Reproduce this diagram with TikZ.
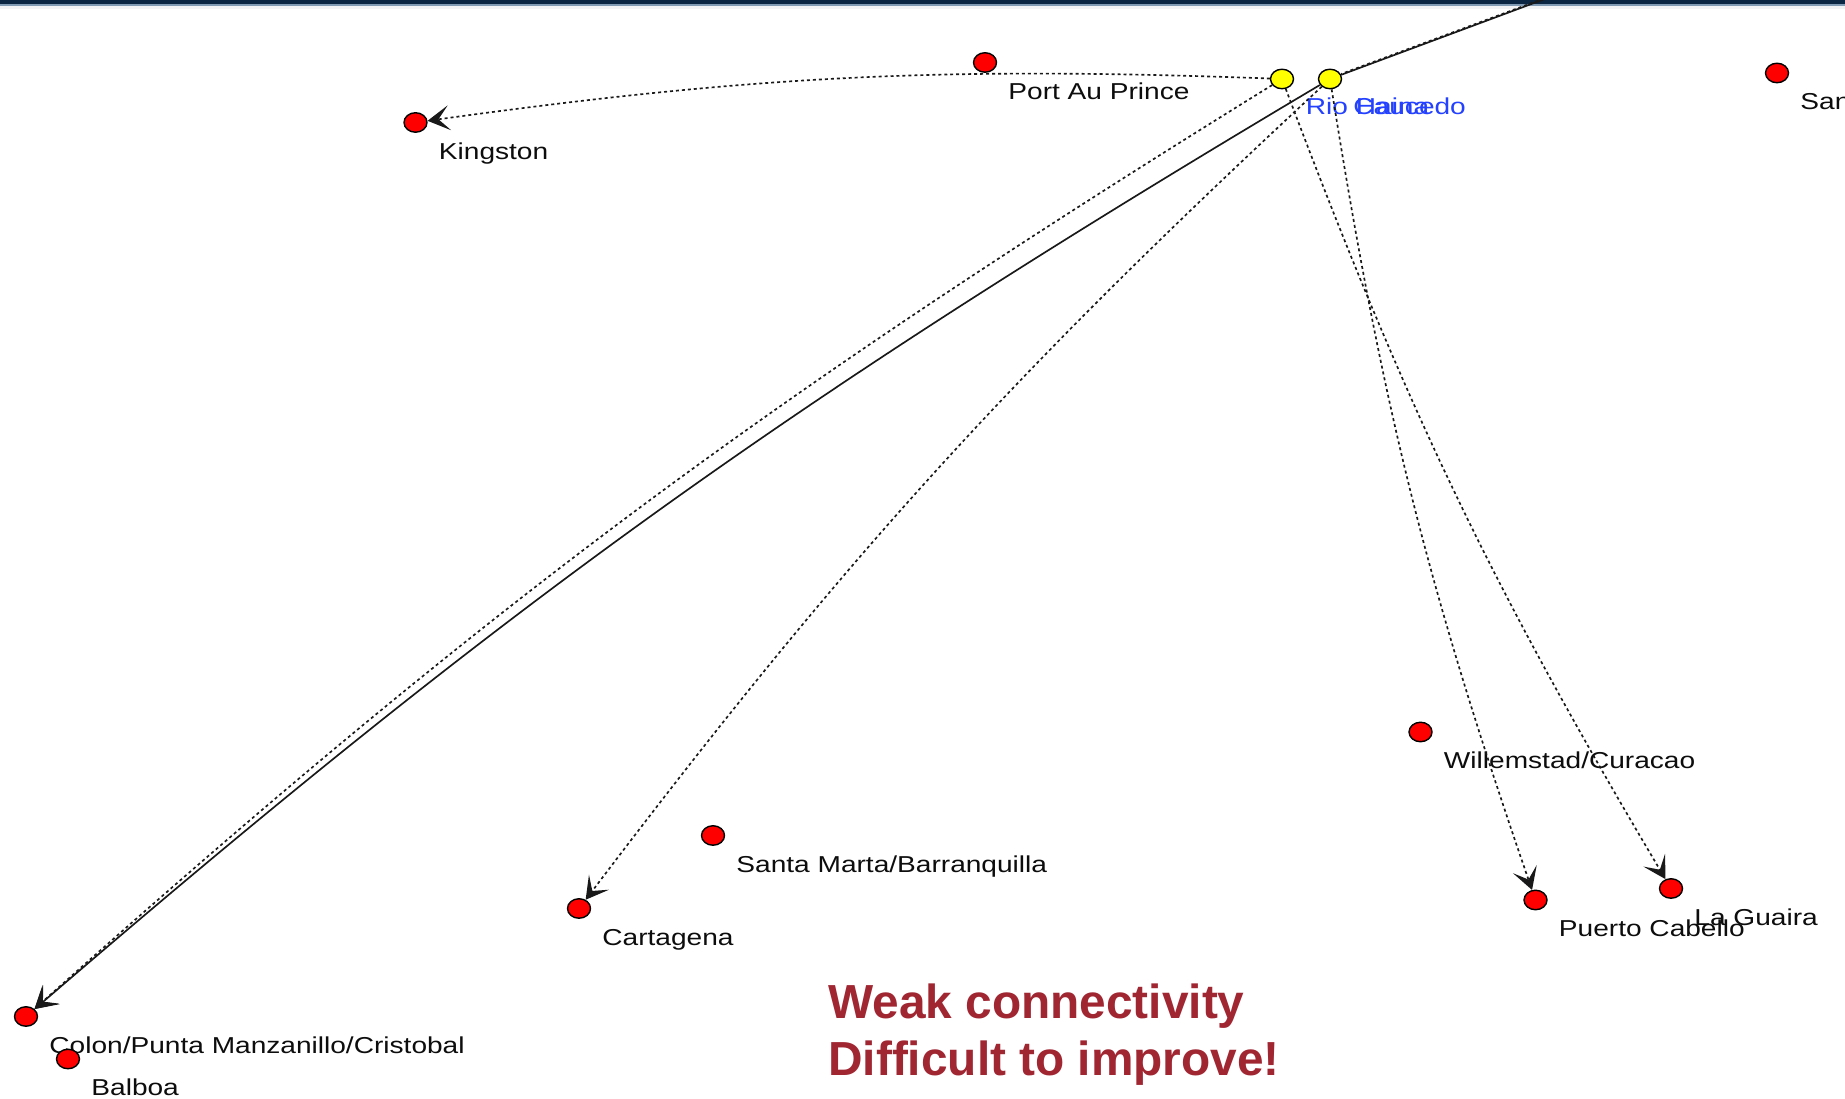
\documentclass[tikz,border=0pt]{standalone}
\usepackage{fontspec}
\setmainfont{Liberation Sans}
\usetikzlibrary{arrows.meta,shapes.geometric}
\definecolor{portred}{RGB}{255,0,0}
\definecolor{hubyellow}{RGB}{255,255,0}
\definecolor{hubblue}{RGB}{35,65,255}
\definecolor{notered}{RGB}{160,38,50}
\definecolor{barnavy}{RGB}{10,38,66}
\definecolor{barline}{RGB}{130,155,180}
\begin{document}
\begin{tikzpicture}[
  port/.style={ellipse, draw=black, line width=0.8pt, fill=portred, minimum width=0.46cm, minimum height=0.39cm, inner sep=0pt},
  hub/.style={port, fill=hubyellow},
  portname/.style={anchor=base west, inner sep=0pt, xscale=1.22, font=\fontsize{13.1}{15}\selectfont, text=black!95},
  hubname/.style={portname, text=hubblue},
  link/.style={line width=0.95pt, black!90, -{Stealth[length=0.44cm, width=0.5cm, inset=0.22cm]}},
  linkdot/.style={link, dash pattern=on 1.7pt off 1.7pt},
  note/.style={anchor=base west, inner sep=0pt, text=notered, font=\fontsize{27.2}{32}\selectfont\bfseries}
]
\useasboundingbox (0,0) rectangle (36.9,21.98);
\clip (0,0) rectangle (36.9,21.98);
\fill[white] (0,0) rectangle (36.9,21.98);

% top bar
\fill[barnavy!5] (0,21.80) rectangle (36.9,21.86);
\fill[barline] (0,21.86) rectangle (36.9,21.90);
\fill[barnavy] (0,21.90) rectangle (36.9,21.98);

% ports
\node[port] (port) at (19.70,20.73) {};
\node[portname] (port-l) at ([shift={(0.46,-0.74)}]port.center) {Port Au Prince};
\node[port] (kin) at (8.31,19.53) {};
\node[portname] (kin-l) at ([shift={(0.46,-0.74)}]kin.center) {Kingston};
\node[port] (sj) at (35.54,20.52) {};
\node[portname] (sj-l) at ([shift={(0.46,-0.74)}]sj.center) {San Juan};
\node[port] (wil) at (28.41,7.34) {};
\node[portname] (wil-l) at ([shift={(0.46,-0.74)}]wil.center) {Willemstad/Curacao};
\node[port] (stm) at (14.26,5.27) {};
\node[portname] (stm-l) at ([shift={(0.46,-0.74)}]stm.center) {Santa Marta/Barranquilla};
\node[port] (car) at (11.58,3.81) {};
\node[portname] (car-l) at ([shift={(0.46,-0.74)}]car.center) {Cartagena};
\node[port] (pcb) at (30.71,3.98) {};
\node[portname] (pcb-l) at ([shift={(0.46,-0.74)}]pcb.center) {Puerto Cabello};
\node[port] (lag) at (33.42,4.21) {};
\node[portname] (lag-l) at ([shift={(0.46,-0.74)}]lag.center) {La Guaira};
\node[port] (col) at (0.52,1.65) {};
\node[portname] (col-l) at ([shift={(0.46,-0.74)}]col.center) {Colon/Punta Manzanillo/Cristobal};
\node[port] (bal) at (1.36,0.80) {};
\node[portname] (bal-l) at ([shift={(0.46,-0.74)}]bal.center) {Balboa};

% hubs
\node[hub] (rio) at (25.64,20.40) {};
\node[hubname] (rio-l) at ([shift={(0.47,-0.72)}]rio.center) {Rio Haina};
\node[hub] (cau) at (26.60,20.40) {};
\node[hubname] (cau-l) at ([shift={(0.46,-0.72)}]cau.center) {Caucedo};
\coordinate (offtop) at (34.12,23.20);

% links
\draw[linkdot] (rio) to[bend right=5] (kin);
\draw[linkdot] (rio) to[bend right=5] (col);
\draw[link] (cau) to[bend right=5] (col);
\draw[linkdot] (cau) to[bend right=5] (car);
\draw[linkdot] (rio) to[bend right=5] (lag);
\draw[linkdot] (cau) to[bend right=5] (pcb);
\draw[link, -] (cau) -- (offtop);
\draw[linkdot, -, transform canvas={yshift=0.5pt}] (offtop) -- (cau);

\node[note] (note1) at (16.56,1.61) {Weak connectivity};
\node[note] (note2) at (16.56,0.47) {Difficult to improve!};
\end{tikzpicture}
\end{document}
